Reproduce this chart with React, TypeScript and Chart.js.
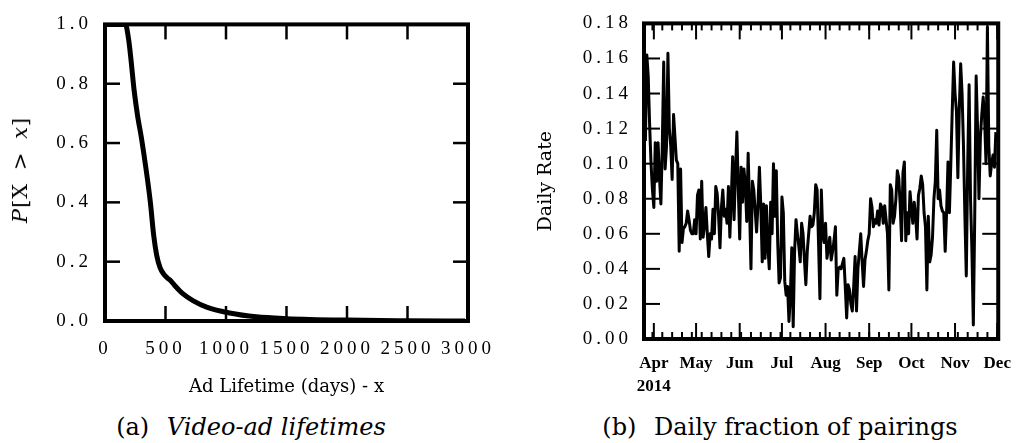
import { useEffect, useRef } from 'react';
import { Chart, registerables } from 'chart.js';

Chart.register(...registerables);

// ---------- (a) Video-ad lifetimes ----------
const LIFETIME_DAYS = [0, 168, 195, 215, 240, 270, 300, 340, 375, 402, 428, 455, 485, 515, 545, 580, 640, 730, 840, 1030, 1250, 1500, 2000, 2500, 2975];
const SURVIVAL = [1.0, 1.0, 0.95, 0.88, 0.78, 0.69, 0.62, 0.51, 0.40, 0.29, 0.22, 0.18, 0.158, 0.145, 0.135, 0.118, 0.093, 0.068, 0.047, 0.027, 0.014, 0.008, 0.003, 0.001, 0.0];
const LIFETIME_TICKS = [0, 500, 1000, 1500, 2000, 2500, 3000];
const SURVIVAL_TICKS = [0, 0.2, 0.4, 0.6, 0.8, 1.0];
const LIFETIME_TITLE = 'Ad Lifetime (days) - x';

// ---------- (b) Daily fraction of pairings ----------
// day numbers are counted from 2014-04-01
const FIRST_DAY = -6;
const DAILY_RATE = [
  0.113, 0.162, 0.150, 0.122, 0.100, 0.085, 0.075, 0.112, 0.090,
  0.112, 0.092, 0.077, 0.110, 0.158, 0.097, 0.110, 0.163, 0.120, 0.110,
  0.091, 0.128, 0.115, 0.102, 0.100, 0.050, 0.097, 0.055, 0.063,
  0.064, 0.066, 0.073, 0.068, 0.062, 0.060, 0.060, 0.068,
  0.060, 0.082, 0.085, 0.057, 0.090, 0.058, 0.065, 0.075, 0.060, 0.047,
  0.060, 0.057, 0.074, 0.060, 0.087, 0.083, 0.070, 0.052, 0.075,
  0.085, 0.070, 0.074, 0.066, 0.087, 0.058, 0.080, 0.104, 0.068,
  0.095, 0.118, 0.085, 0.057, 0.098, 0.078, 0.097, 0.088, 0.067, 0.106,
  0.075, 0.040, 0.090, 0.085, 0.073, 0.061, 0.077, 0.098, 0.076,
  0.044, 0.077, 0.046, 0.076, 0.053, 0.040, 0.078, 0.060, 0.100, 0.070,
  0.096, 0.055, 0.032, 0.035, 0.081, 0.072, 0.033, 0.025, 0.030,
  0.010, 0.025, 0.052, 0.007, 0.050, 0.068, 0.060, 0.053, 0.044,
  0.066, 0.060, 0.045, 0.031, 0.050, 0.060, 0.070, 0.064, 0.065,
  0.072, 0.088, 0.085, 0.055, 0.023, 0.085, 0.060, 0.055, 0.066,
  0.046, 0.052, 0.058, 0.045, 0.050, 0.056, 0.064, 0.025, 0.040,
  0.041, 0.040, 0.043, 0.046, 0.030, 0.012, 0.031, 0.028, 0.020, 0.016,
  0.030, 0.047, 0.016, 0.040, 0.050, 0.060, 0.044, 0.030, 0.045,
  0.050, 0.056, 0.060, 0.080, 0.075, 0.064, 0.068, 0.066, 0.073,
  0.065, 0.077, 0.075, 0.066, 0.076, 0.068, 0.060, 0.028, 0.088,
  0.085, 0.066, 0.070, 0.080, 0.096, 0.092, 0.077, 0.056, 0.095,
  0.101, 0.056, 0.072, 0.060, 0.084, 0.075, 0.066, 0.078, 0.070, 0.057,
  0.082, 0.086, 0.093, 0.088, 0.072, 0.064, 0.028, 0.070, 0.044,
  0.048, 0.058, 0.080, 0.090, 0.119, 0.080, 0.085, 0.076, 0.073,
  0.072, 0.050, 0.072, 0.101, 0.072, 0.100, 0.130, 0.158, 0.140, 0.130,
  0.092, 0.130, 0.157, 0.140, 0.110, 0.070, 0.036, 0.100, 0.145, 0.080,
  0.050, 0.008, 0.070, 0.150, 0.120, 0.080, 0.115, 0.128, 0.138,
  0.126, 0.100, 0.178, 0.110, 0.093, 0.100, 0.105, 0.098, 0.118,
];
const RATE_TICKS = [0, 0.02, 0.04, 0.06, 0.08, 0.1, 0.12, 0.14, 0.16, 0.18];
const MONTH_LABELS = ['Apr', 'May', 'Jun', 'Jul', 'Aug', 'Sep', 'Oct', 'Nov', 'Dec'];
const MONTH_START_DAYS = [0, 30, 61, 91, 122, 153, 183, 214, 244];
const WEEK_TICK_DAYS = [-1, 6, 13, 20, 27, 34, 41, 48, 55, 62, 69, 76, 83, 90, 97, 104, 111, 118, 125, 132, 139, 146, 153, 160, 167, 174, 181, 188, 195, 202, 209, 216, 223, 230, 237, 244];
const YEAR_LABEL = '2014';
const RATE_TITLE = 'Daily Rate';

const TICK_FONT = { family: '"Liberation Serif", serif', size: 19, lineHeight: 1.2 };
const TITLE_FONT_FAMILY = '"DejaVu Serif", serif';

// letter-spacing for numeric tick labels (wide, spaced-out digits)
const tickSpacingPlugin = {
  id: 'tickSpacing',
  beforeDraw(chart: any, _args: any, opts: any) {
    for (const id of opts.scales || []) {
      const s: any = chart.scales[id];
      if (!s || s.__spaced) continue;
      const orig = s.drawLabels;
      s.drawLabels = function (area: any) {
        const ctx = this.ctx;
        ctx.save();
        (ctx as any).letterSpacing = opts.spacing;
        orig.call(this, area);
        ctx.restore();
      };
      s.__spaced = true;
    }
  },
};

// box frame and inward tick marks on all four sides
const framePlugin = {
  id: 'frame',
  afterDatasetsDraw(chart: any, _args: any, opts: any) {
    const { ctx, chartArea: a, scales } = chart;
    const line = (x1: number, y1: number, x2: number, y2: number) => {
      ctx.beginPath();
      ctx.moveTo(x1, y1);
      ctx.lineTo(x2, y2);
      ctx.stroke();
    };
    ctx.save();
    ctx.strokeStyle = '#000';
    ctx.lineCap = 'butt';
    ctx.lineWidth = opts.tickWidth;
    const xTicks = (vals: number[], len: number) => {
      for (const v of vals) {
        const px = scales.x.getPixelForValue(v);
        if (px < a.left - 0.5 || px > a.right + 0.5) continue;
        line(px, a.top, px, a.top + len);
        line(px, a.bottom, px, a.bottom - len);
      }
    };
    xTicks(opts.xMinor || [], opts.minorLen);
    xTicks(opts.xMajor || [], opts.majorLen);
    for (const v of opts.yMajor || []) {
      const py = scales.y.getPixelForValue(v);
      line(a.left, py, a.left + opts.majorLen, py);
      line(a.right, py, a.right - opts.majorLen, py);
    }
    ctx.lineWidth = opts.frameWidth;
    ctx.lineJoin = 'miter';
    ctx.strokeRect(a.left, a.top, a.right - a.left, a.bottom - a.top);
    ctx.restore();
  },
};

const NO_GRID = { display: false, drawTicks: false, tickLength: 0 };

export default function App() {
  const leftRef = useRef<HTMLCanvasElement>(null);
  const rightRef = useRef<HTMLCanvasElement>(null);

  useEffect(() => {
    const left = new Chart(leftRef.current!, {
      type: 'line',
      data: {
        datasets: [
          {
            data: LIFETIME_DAYS.map((d, i) => ({ x: d, y: SURVIVAL[i] })),
            borderColor: '#000',
            borderWidth: 5,
            pointRadius: 0,
            fill: false,
            cubicInterpolationMode: 'monotone',
          },
        ],
      },
      options: {
        animation: false,
        responsive: false,
        events: [],
        layout: { padding: { left: 0, top: 17, right: 44, bottom: 0 } },
        plugins: {
          legend: { display: false },
          tooltip: { enabled: false },
          tickSpacing: { scales: ['x', 'y'], spacing: '4px' },
          frame: { xMajor: LIFETIME_TICKS, yMajor: SURVIVAL_TICKS, majorLen: 15, minorLen: 7, tickWidth: 2.5, frameWidth: 4 },
        } as any,
        scales: {
          x: {
            type: 'linear',
            min: 0,
            max: 3000,
            afterBuildTicks: (s: any) => { s.ticks = LIFETIME_TICKS.map((value) => ({ value })); },
            afterFit: (s: any) => { s.height = 79; },
            grid: NO_GRID,
            border: { display: false },
            ticks: { color: '#000', font: TICK_FONT, padding: 17, maxRotation: 0, autoSkip: false, callback: (v: any) => String(v) },
            title: { display: true, text: LIFETIME_TITLE, color: '#000', font: { family: TITLE_FONT_FAMILY, size: 18, lineHeight: 1.2 }, padding: { top: 0, bottom: 2 } },
          },
          y: {
            type: 'linear',
            min: 0,
            max: 1,
            afterBuildTicks: (s: any) => { s.ticks = SURVIVAL_TICKS.map((value) => ({ value })); },
            afterFit: (s: any) => { s.width = 105; },
            grid: NO_GRID,
            border: { display: false },
            ticks: { color: '#000', font: TICK_FONT, padding: 13, autoSkip: false, callback: (v: any) => Number(v).toFixed(1) },
          },
        },
      },
      plugins: [tickSpacingPlugin, framePlugin],
    } as any);

    const right = new Chart(rightRef.current!, {
      type: 'line',
      data: {
        datasets: [
          {
            data: DAILY_RATE.map((v, i) => ({ x: FIRST_DAY + i, y: v })),
            borderColor: '#000',
            borderWidth: 3,
            borderJoinStyle: 'round',
            pointRadius: 0,
            fill: false,
            tension: 0,
          },
        ],
      },
      options: {
        animation: false,
        responsive: false,
        events: [],
        layout: { padding: { left: 0, top: 17, right: 20, bottom: 0 } },
        plugins: {
          legend: { display: false },
          tooltip: { enabled: false },
          tickSpacing: { scales: ['y'], spacing: '4px' },
          frame: { xMajor: MONTH_START_DAYS, xMinor: WEEK_TICK_DAYS, yMajor: RATE_TICKS, majorLen: 16, minorLen: 7, tickWidth: 2, frameWidth: 4 },
        } as any,
        scales: {
          x: {
            type: 'linear',
            min: -7,
            max: 244.7,
            afterBuildTicks: (s: any) => { s.ticks = MONTH_START_DAYS.map((value) => ({ value })); },
            afterFit: (s: any) => { s.height = 61; },
            grid: NO_GRID,
            border: { display: false },
            ticks: {
              color: '#000',
              font: { family: '"Liberation Serif", serif', size: 17, weight: 'bold', lineHeight: 1.36 },
              padding: 13,
              maxRotation: 0,
              autoSkip: false,
              callback: (_v: any, i: number) => (i === 0 ? [MONTH_LABELS[0], YEAR_LABEL] : MONTH_LABELS[i]),
            },
          },
          y: {
            type: 'linear',
            min: 0,
            max: 0.18,
            afterBuildTicks: (s: any) => { s.ticks = RATE_TICKS.map((value) => ({ value })); },
            afterFit: (s: any) => { s.width = 124; },
            grid: NO_GRID,
            border: { display: false },
            ticks: { color: '#000', font: TICK_FONT, padding: 12, autoSkip: false, callback: (v: any) => Number(v).toFixed(2) },
            title: { display: true, text: RATE_TITLE, color: '#000', font: { family: TITLE_FONT_FAMILY, size: 19, lineHeight: 1.2 }, padding: { top: 15, bottom: 0 } },
          },
        },
      },
      plugins: [tickSpacingPlugin, framePlugin],
    } as any);

    return () => {
      left.destroy();
      right.destroy();
    };
  }, []);

  return (
    <div style={{ position: 'absolute', left: 0, top: 0, width: 1024, height: 443, background: '#fff', overflow: 'hidden', fontFamily: TITLE_FONT_FAMILY, color: '#000' }}>
      <canvas ref={leftRef} width={512} height={400} style={{ position: 'absolute', left: 0, top: 0 }} />
      <div
        style={{
          position: 'absolute',
          left: 20,
          top: 170,
          transform: 'translate(-50%, -50%) rotate(-90deg)',
          whiteSpace: 'nowrap',
          fontSize: 21,
          lineHeight: '24px',
          wordSpacing: 5,
          letterSpacing: 1,
        }}
      >
        <i>P</i>[X &gt; <i>x</i>]
      </div>
      <canvas ref={rightRef} width={504} height={400} style={{ position: 'absolute', left: 520, top: 0 }} />
      <div style={{ position: 'absolute', left: 251, top: 413, transform: 'translateX(-50%)', whiteSpace: 'nowrap', fontSize: 24, lineHeight: '28px' }}>
        <span>(a)</span> <i style={{ marginLeft: 10 }}>Video-ad lifetimes</i>
      </div>
      <div style={{ position: 'absolute', left: 780, top: 413, transform: 'translateX(-50%)', whiteSpace: 'nowrap', fontSize: 24, lineHeight: '28px' }}>
        <span>(b)</span> <span style={{ marginLeft: 10 }}>Daily fraction of pairings</span>
      </div>
    </div>
  );
}
